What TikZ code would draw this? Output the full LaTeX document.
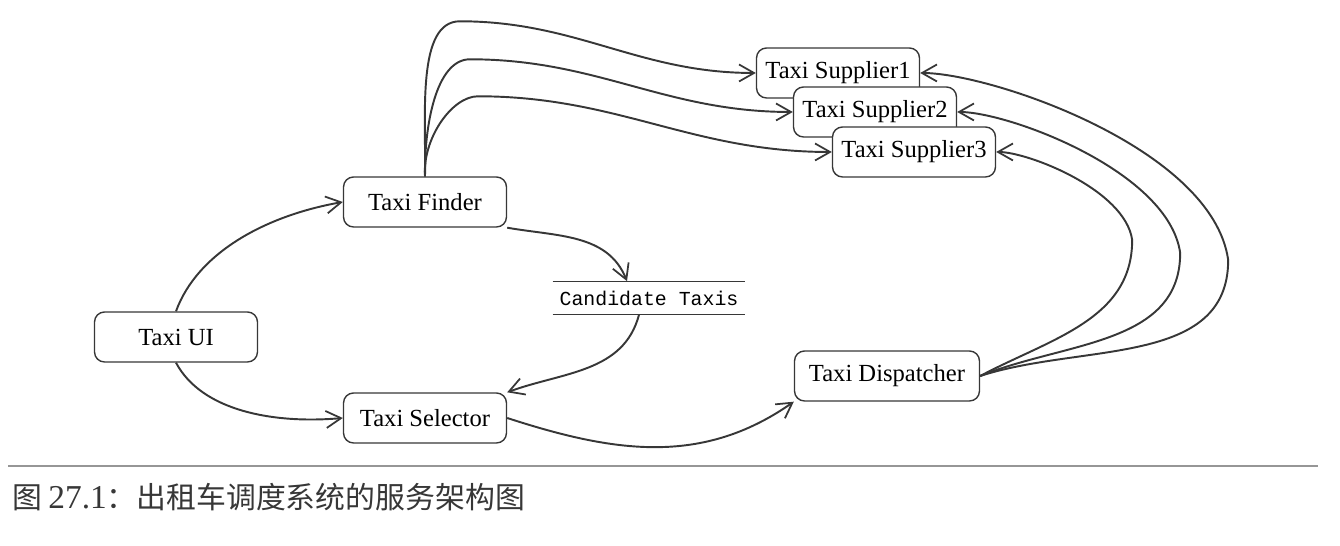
\documentclass[tikz,border=0pt]{standalone}
\usepackage{fontspec}
\setmainfont{Liberation Serif}
\setmonofont{Liberation Mono}
\newfontfamily\cjk{Noto Sans CJK SC}
\usetikzlibrary{arrows.meta,positioning}
\definecolor{ink}{RGB}{55,55,55}
\definecolor{rulegrey}{RGB}{150,150,150}

\begin{document}
\begin{tikzpicture}[x=0.02cm,y=0.02cm,font=\fontsize{14}{16}\selectfont,
  >={Straight Barb[length=0.3cm,width=0.34cm,line width=1pt]},
  svc/.style={draw=ink,line width=0.8pt,rounded corners=0.2cm,fill=white,
    minimum width=3.26cm,minimum height=1cm},
  flow/.style={->,ink,line width=1.1pt}]
 \useasboundingbox (0,0) rectangle (1340,546);
 % services
 \node[svc] (ui) at (176,209) {Taxi UI};
 \node[svc] (finder) at (425,344) {Taxi Finder};
 \node[svc] (selector) at (425,128) {Taxi Selector};
 \node[svc,minimum width=3.7cm] (disp) at (887,170) {Taxi Dispatcher};
 \node[svc] (s1) at (838,473) {Taxi Supplier1};
 \node[svc] (s2) at (875,434) {Taxi Supplier2};
 \node[svc] (s3) at (914,394) {Taxi Supplier3};
 % data store
 \node[minimum width=3.84cm,minimum height=0.66cm,inner sep=0pt,
   font=\ttfamily\fontsize{11.3}{13}\selectfont] (cand) at (649,248) {Candidate Taxis};
 \draw[ink,line width=0.7pt] (cand.north west) -- (cand.north east)
   (cand.south west) -- (cand.south east);
 % request flow
 \draw[flow] (ui.north) to[out=70,in=190,out looseness=0.8] (finder.west);
 \draw[flow] (ui.south) to[out=-62,in=185,out looseness=0.8] (selector.west);
 \draw[flow] (finder.south east) to[out=-10,in=112] ([xshift=-0.44cm]cand.north);
 \draw[flow] ([xshift=-0.2cm]cand.south) to[out=-105,in=20] (selector.north east);
 \draw[flow] (selector.east) to[out=-18,in=215] (disp.south west);
 % finder -> suppliers
 \draw[flow] (finder.north) to[out=89,in=180,in looseness=0.7] ++(35,155)
   to[out=0,in=180] (s1.west);
 \draw[flow] (finder.north) to[out=91,in=180,in looseness=0.7] ++(45,117)
   to[out=0,in=180] (s2.west);
 \draw[flow] (finder.north) to[out=94,in=180,in looseness=0.7] ++(53,80)
   to[out=0,in=180] (s3.west);
 % dispatcher -> suppliers
 \draw[flow] (disp.east) to[out=18,in=-90] ++(248,116)
   to[out=98,in=0,out looseness=0.8,in looseness=0.5] (s1.east);
 \draw[flow] (disp.east) to[out=22,in=-90] ++(200,123)
   to[out=98,in=0,out looseness=0.8,in looseness=0.5] (s2.east);
 \draw[flow] (disp.east) to[out=28,in=-90] ++(152,136)
   to[out=98,in=0,out looseness=0.8,in looseness=0.5] (s3.east);
 % caption
 \draw[rulegrey,line width=0.6pt] (8,80) -- (1318,80);
 \node[anchor=west,inner sep=0pt,text=ink] (cap) at (12,49)
   {{\cjk\fontsize{17}{20}\selectfont 图} {\fontsize{19}{20}\selectfont 27.1}{\cjk\fontsize{17}{20}\selectfont ：出租车调度系统的服务架构图}};
\end{tikzpicture}
\end{document}
